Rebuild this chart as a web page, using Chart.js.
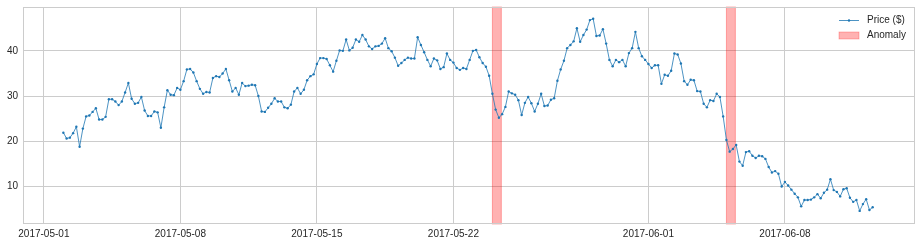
<!DOCTYPE html>
<html>
<head>
<meta charset="utf-8">
<script src="https://cdn.jsdelivr.net/npm/chart.js@4.4.0/dist/chart.umd.min.js"></script>
<style>
    html, body { margin: 0; padding: 0; background: #fff; }
    canvas { display: block; }
</style>
</head>
<body>
<canvas id="price_chart" width="921" height="245"></canvas>
<script>
// data, one value every 4 hours from 2017-05-02 00:00
var startTime = "2017-05-02T00:00:00Z";
var stepHours = 4;
var priceValues = [
    21.9, 20.6, 20.8, 21.8, 23.2, 18.8, 22.8, 25.5, 25.7, 26.5,
    27.3, 24.8, 24.8, 25.4, 29.3, 29.3, 28.8, 28.0, 28.8, 30.8,
    32.9, 29.4, 28.3, 28.5, 29.8, 26.8, 25.6, 25.6, 26.6, 26.4,
    23.0, 27.5, 31.3, 30.3, 30.2, 31.8, 31.4, 33.3, 35.9, 36.0,
    35.2, 33.3, 31.6, 30.5, 30.9, 30.8, 34.0, 34.4, 34.2, 35.0,
    36.0, 33.5, 31.0, 31.8, 30.3, 32.9, 32.2, 32.3, 32.5, 32.4,
    30.0, 26.6, 26.5, 27.4, 28.3, 29.5, 28.8, 28.8, 27.5, 27.3,
    28.1, 31.0, 31.8, 30.5, 31.4, 33.5, 34.4, 34.8, 37.1, 38.4,
    38.4, 38.2, 36.8, 35.4, 37.8, 40.1, 40.0, 42.5, 40.1, 40.7,
    42.5, 42.0, 43.5, 42.5, 41.0, 40.4, 41.0, 41.1, 41.6, 42.8,
    40.6, 39.9, 38.5, 36.7, 37.3, 38.0, 38.5, 38.3, 38.3, 43.0,
    41.3, 39.7, 38.0, 36.6, 38.3, 37.9, 36.0, 36.4, 39.4, 38.0,
    37.4, 36.2, 35.8, 36.2, 36.0, 38.0, 40.0, 40.2, 38.6, 37.3,
    36.5, 34.5, 30.5, 27.0, 25.2, 26.0, 27.6, 31.0, 30.6, 30.3,
    29.1, 25.8, 28.5, 29.8, 28.4, 26.6, 28.3, 30.5, 27.8, 27.9,
    29.2, 29.5, 33.4, 35.9, 37.8, 40.6, 41.3, 42.1, 45.0, 42.0,
    43.5, 44.7, 46.8, 47.1, 43.3, 43.4, 44.8, 41.6, 38.0, 36.6,
    38.0, 37.5, 38.0, 36.6, 39.5, 40.6, 44.2, 40.6, 38.8, 38.0,
    37.1, 36.2, 36.8, 36.8, 32.7, 34.7, 34.5, 35.6, 39.4, 39.2,
    37.2, 33.3, 32.5, 33.6, 33.5, 31.1, 31.0, 28.3, 27.5, 29.1,
    28.9, 30.5, 29.8, 25.5, 20.3, 17.7, 18.3, 19.2, 15.5, 14.6,
    17.6, 17.8, 16.8, 16.3, 16.8, 16.7, 16.1, 14.3, 13.1, 13.4,
    12.8, 10.0, 11.0, 10.2, 9.3, 8.4, 7.6, 5.6, 7.0, 7.0,
    7.1, 7.6, 8.3, 7.4, 8.6, 9.3, 11.6, 9.2, 8.8, 7.8,
    9.4, 9.6, 7.5, 6.6, 7.0, 4.6, 6.1, 7.2, 4.8, 5.4
];
var anomalyStart = ["2017-05-24T00:00:00Z", "2017-06-05T00:00:00Z"];
var anomalyEnd = ["2017-05-24T11:00:00Z", "2017-06-05T11:00:00Z"];
var tickDates = ["2017-05-01", "2017-05-08", "2017-05-15", "2017-05-22", "2017-06-01", "2017-06-08"];
var yTicks = [10, 20, 30, 40];
var legendLabels = ["Price ($)", "Anomaly"];

var DAY = 24 * 3600 * 1000;
var origin = Date.parse("2017-05-01T00:00:00Z");
var textColor = "#262626";
var gridColor = "#cccccc";
var lineColor = "#1f77b4";
var spanColor = "rgba(255, 0, 0, 0.3)";
var fontFamily = "'Liberation Sans', Arial, sans-serif";

function buildPoints(){
    var t0 = Date.parse(startTime);
    return priceValues.map(function(v, i){
        return {x: t0 + i * stepHours * 3600 * 1000, y: v};
    });
}

// red vertical bands behind the line
var anomalySpans = {
    id: "anomalySpans",
    beforeDatasetsDraw: function(chart){
        var ctx = chart.ctx;
        var area = chart.chartArea;
        var xs = chart.scales.x;
        ctx.save();
        ctx.fillStyle = spanColor;
        ctx.strokeStyle = spanColor;
        ctx.lineWidth = 1;
        for (var i = 0; i < anomalyStart.length; i++){
            var x1 = xs.getPixelForValue(Date.parse(anomalyStart[i]));
            var x2 = xs.getPixelForValue(Date.parse(anomalyEnd[i]));
            ctx.fillRect(x1, area.top, x2 - x1, area.bottom - area.top);
            ctx.strokeRect(x1, area.top, x2 - x1, area.bottom - area.top);
        }
        ctx.restore();
    }
};

// full box around the axes + legend in the upper right
var frameAndLegend = {
    id: "frameAndLegend",
    afterDraw: function(chart){
        var ctx = chart.ctx;
        var area = chart.chartArea;
        ctx.save();
        ctx.strokeStyle = gridColor;
        ctx.lineWidth = 1;
        ctx.strokeRect(Math.round(area.left) + 0.5, Math.round(area.top) + 0.5,
            Math.round(area.right - area.left) - 1, Math.round(area.bottom - area.top) - 1);

        var hx = area.right - 76;
        var tx = area.right - 48;
        var y1 = area.top + 13.5;
        var y2 = area.top + 28.5;

        ctx.strokeStyle = lineColor;
        ctx.lineWidth = 0.8;
        ctx.beginPath();
        ctx.moveTo(hx, y1);
        ctx.lineTo(hx + 20, y1);
        ctx.stroke();
        ctx.fillStyle = lineColor;
        ctx.beginPath();
        ctx.arc(hx + 10, y1, 1.2, 0, Math.PI * 2);
        ctx.fill();

        ctx.fillStyle = spanColor;
        ctx.strokeStyle = spanColor;
        ctx.fillRect(hx, y2 - 3.5, 20, 7);
        ctx.strokeRect(hx, y2 - 3.5, 20, 7);

        ctx.fillStyle = textColor;
        ctx.font = "10px " + fontFamily;
        ctx.textBaseline = "middle";
        ctx.fillText(legendLabels[0], tx, y1);
        ctx.fillText(legendLabels[1], tx, y2);
        ctx.restore();
    }
};

var ctx = document.getElementById("price_chart");
var chart = new Chart(ctx, {
    type: "line",
    data: {
        datasets: [{
            label: legendLabels[0],
            data: buildPoints(),
            borderColor: lineColor,
            borderWidth: 0.8,
            pointRadius: 1.2,
            pointBackgroundColor: lineColor,
            pointBorderWidth: 0,
            tension: 0
        }]
    },
    options: {
        responsive: false,
        animation: false,
        devicePixelRatio: 1,
        layout: {
            padding: {left: 0, right: 6, top: 7, bottom: 0}
        },
        plugins: {
            legend: {display: false},
            tooltip: {enabled: false}
        },
        scales: {
            x: {
                type: "linear",
                min: origin - 1.07 * DAY,
                max: origin + 44.67 * DAY,
                afterBuildTicks: function(scale){
                    scale.ticks = tickDates.map(function(d){
                        return {value: Date.parse(d + "T00:00:00Z")};
                    });
                },
                afterFit: function(scale){
                    scale.height = 21;
                },
                grid: {color: gridColor, lineWidth: 1, drawTicks: false},
                border: {display: false},
                ticks: {
                    color: textColor,
                    font: {family: fontFamily, size: 10},
                    padding: 4,
                    maxRotation: 0,
                    autoSkip: false,
                    callback: function(value){
                        return new Date(value).toISOString().slice(0, 10);
                    }
                }
            },
            y: {
                min: 1.7,
                max: 49.7,
                afterBuildTicks: function(scale){
                    scale.ticks = yTicks.map(function(v){
                        return {value: v};
                    });
                },
                afterFit: function(scale){
                    // no extra room for half a label above/below
                    scale.width = 23;
                    scale.paddingTop = 0;
                    scale.paddingBottom = 0;
                },
                grid: {color: gridColor, lineWidth: 1, drawTicks: false},
                border: {display: false},
                ticks: {
                    color: textColor,
                    font: {family: fontFamily, size: 10},
                    padding: 5
                }
            }
        }
    },
    plugins: [anomalySpans, frameAndLegend]
});
</script>
</body>
</html>
